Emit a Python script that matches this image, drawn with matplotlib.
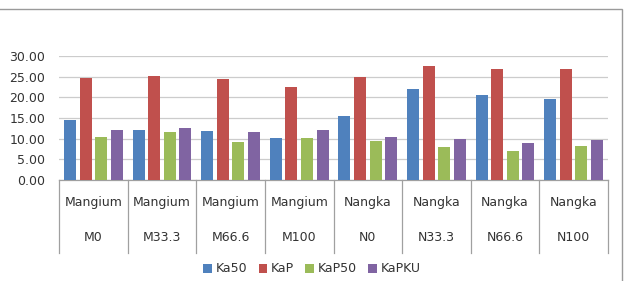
import matplotlib.pyplot as plt
import matplotlib.transforms as mtransforms
from matplotlib.patches import Rectangle
import numpy as np

species = ["Mangium", "Mangium", "Mangium", "Mangium", "Nangka", "Nangka", "Nangka", "Nangka"]
treatments = ["M0", "M33.3", "M66.6", "M100", "N0", "N33.3", "N66.6", "N100"]
ka50 = [14.4, 12.0, 11.9, 10.2, 15.4, 22.1, 20.6, 19.6]
kap = [24.7, 25.2, 24.5, 22.4, 25.0, 27.7, 26.9, 26.9]
kap50 = [10.4, 11.5, 9.3, 10.2, 9.4, 8.0, 6.9, 8.2]
kapku = [12.2, 12.6, 11.5, 12.2, 10.5, 9.9, 8.9, 9.7]
series_names = ["Ka50", "KaP", "KaP50", "KaPKU"]
colors = ["#4F81BD", "#C0504D", "#9BBB59", "#8064A2"]


def main():
    plt.rcParams['font.family'] = ['DejaVu Sans']
    fig = plt.figure(figsize=(6.24, 2.81), dpi=100)
    ax = fig.add_axes([59 / 624, 101 / 281, 549 / 624, 124 / 281])

    x = np.arange(len(treatments))
    step = 0.227
    width = 0.175
    offsets = (np.arange(4) - 1.5) * step
    for vals, name, col, off in zip([ka50, kap, kap50, kapku], series_names, colors, offsets):
        ax.bar(x + 0.5 + off, vals, width, color=col, label=name, zorder=3)

    ax.set_xlim(0, len(treatments))
    ax.set_ylim(0, 30)
    ax.set_yticks(np.arange(0, 31, 5))
    ax.set_yticklabels([f"{v:.2f}" for v in np.arange(0, 31, 5)], fontsize=9, color="#333333")
    ax.tick_params(axis="y", length=0, pad=10)
    ax.tick_params(axis="x", length=0, labelbottom=False)
    ax.grid(axis="y", color="#CCCCCC", linewidth=0.9, zorder=0)
    for s in ["top", "right", "left"]:
        ax.spines[s].set_visible(False)
    ax.spines["bottom"].set_color("#A0A0A0")
    ax.spines["bottom"].set_linewidth(0.9)

    # category separators and two-level labels
    trans = mtransforms.blended_transform_factory(ax.transData, ax.transAxes)
    for i in range(len(treatments) + 1):
        ax.plot([i, i], [0, -0.585], color="#A0A0A0", lw=0.9, transform=trans, clip_on=False)
    for i in range(len(treatments)):
        ax.text(i + 0.5, -0.18, species[i], transform=trans, ha="center", va="center",
                fontsize=9, color="#333333")
        ax.text(i + 0.5, -0.46, treatments[i], transform=trans, ha="center", va="center",
                fontsize=9, color="#333333")

    fig.legend(loc="center", bbox_to_anchor=(312 / 624, 1 - 269 / 281), ncol=4, frameon=False,
               fontsize=9, handlelength=0.7, handleheight=0.7, handletextpad=0.3,
               columnspacing=0.9, labelcolor="#333333")

    # outer chart frame (only top and right visible)
    fig.patches.append(Rectangle((-0.1, -0.1), 0.1 + 622 / 624, 0.1 + 1 - 9 / 281,
                                 transform=fig.transFigure, fill=False,
                                 edgecolor="#9A9A9A", lw=1.0))

    fig.savefig("out.png", dpi=100)


if __name__ == '__main__':
    main()
